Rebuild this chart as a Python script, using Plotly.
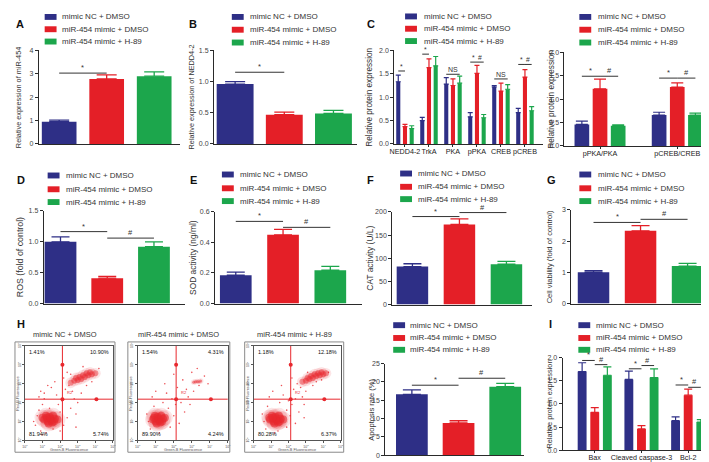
import plotly.graph_objects as go

W, H = 709, 462
FONT = "Arial, 'Liberation Sans', sans-serif"

series_names = ["mimic NC + DMSO", "miR-454 mimic + DMSO", "miR-454 mimic + H-89"]
series_colors = ["#2e2f86", "#e41f27", "#1ca64c"]

# ---------------- data ----------------
A_vals = [0.95, 2.78, 2.90]
A_err = [0.07, 0.17, 0.18]
A_sig = [(0, 1, 3.03, "*")]

B_vals = [0.96, 0.47, 0.49]
B_err = [0.04, 0.04, 0.05]
B_sig = [(0, 1, 1.15, "*")]

C_cats = ["NEDD4-2", "TrkA", "PKA", "pPKA", "CREB", "pCREB"]
C_nc = [1.33, 0.50, 1.28, 0.58, 1.22, 0.67]
C_nc_err = [0.14, 0.07, 0.14, 0.09, 0.03, 0.09]
C_mimic = [0.37, 1.63, 1.25, 1.51, 1.13, 1.43]
C_mimic_err = [0.05, 0.19, 0.14, 0.17, 0.17, 0.16]
C_h89 = [0.33, 1.67, 1.30, 0.56, 1.17, 0.71]
C_h89_err = [0.06, 0.20, 0.15, 0.07, 0.10, 0.09]
C_sig = [(0, 0, 1, 1.56, "*"), (1, 0, 1, 1.92, "*"), (2, 0, 2, 1.49, "NS"),
         (3, 0, 1, 1.75, "*"), (3, 1, 2, 1.75, "#"), (4, 0, 2, 1.39, "NS"),
         (5, 0, 1, 1.70, "*"), (5, 1, 2, 1.70, "#")]

C2_cats = ["pPKA/PKA", "pCREB/CREB"]
C2_nc = [0.46, 0.66]
C2_nc_err = [0.07, 0.06]
C2_mimic = [1.22, 1.26]
C2_mimic_err = [0.21, 0.09]
C2_h89 = [0.43, 0.66]
C2_h89_err = [0.02, 0.04]
C2_sig = [(0, 0, 1, 1.49, "*"), (0, 1, 2, 1.49, "#"), (1, 0, 1, 1.45, "*"), (1, 1, 2, 1.45, "#")]

D_vals = [1.00, 0.41, 0.92]
D_err = [0.08, 0.03, 0.08]
D_sig = [(0, 1, 1.165, "*"), (1, 2, 1.06, "#")]

E_vals = [0.185, 0.450, 0.218]
E_err = [0.020, 0.035, 0.025]
E_sig = [(0, 1, 0.538, "*"), (1, 2, 0.499, "#")]

F_vals = [82, 173, 87]
F_err = [6, 12, 6]
F_sig = [(0, 1, 190, "*"), (1, 2, 198.6, "#")]

G_vals = [1.00, 2.33, 1.20]
G_err = [0.05, 0.17, 0.09]
G_sig = [(0, 1, 2.60, "*"), (1, 2, 2.70, "#")]

Hr_vals = [16.6, 8.8, 18.7]
Hr_err = [1.2, 0.6, 0.9]
Hr_sig = [(0, 1, 19.1, "*"), (1, 2, 21.0, "#")]

I_cats = ["Bax", "Cleaved caspase-3", "Bcl-2"]
I_nc = [1.70, 1.53, 0.64]
I_nc_err = [0.19, 0.18, 0.08]
I_mimic = [0.82, 0.46, 1.19]
I_mimic_err = [0.10, 0.07, 0.13]
I_h89 = [1.62, 1.57, 0.61]
I_h89_err = [0.18, 0.19, 0.05]
I_sig = [(0, 0, 1, 1.94, "*"), (0, 1, 2, 1.85, "#"), (1, 0, 1, 1.76, "*"), (1, 1, 2, 1.83, "#"),
         (2, 0, 1, 1.41, "*"), (2, 1, 2, 1.36, "#")]

flow_titles = ["mimic NC + DMSO", "miR-454 mimic + DMSO", "miR-454 mimic + H-89"]
flow_pcts = [["1.41%", "10.90%", "81.94%", "5.74%"],
             ["1.54%", "4.31%", "89.90%", "4.24%"],
             ["1.18%", "12.18%", "80.28%", "6.37%"]]
flow_tick_labels = ["10<sup>0</sup>", "10<sup>1</sup>", "10<sup>2</sup>", "10<sup>3</sup>", "10<sup>4</sup>", "10<sup>5</sup>"]
gate_x = 2.13
gate_y = 2.18
# dense populations (log-decade units)
core1_x = [1.1, 1.3, 1.5, 1.7, 1.2, 1.4, 1.6, 1.35, 1.55, 1.45, 1.25, 1.65, 1.0, 1.85]
core1_y = [1.1, 1.0, 1.05, 1.15, 1.3, 1.25, 1.3, 0.9, 0.95, 1.15, 1.2, 1.0, 1.2, 1.1]
up1_x = [2.6, 2.8, 3.0, 3.2, 3.4, 3.6, 3.8, 4.0, 3.1, 3.3, 3.5, 3.7, 2.9]
up1_y = [3.05, 3.15, 3.2, 3.25, 3.35, 3.45, 3.5, 3.55, 3.35, 3.45, 3.55, 3.6, 3.3]
core2_x = [0.85, 1.0, 1.2, 1.4, 0.95, 1.1, 1.3, 1.05, 1.25, 1.15, 0.9, 1.35, 1.5]
core2_y = [1.1, 1.0, 1.05, 1.15, 1.3, 1.25, 1.3, 0.9, 0.95, 1.15, 1.2, 1.0, 1.2]
up2_x = [3.1, 3.2, 3.3, 3.4, 3.5]
up2_y = [3.08, 3.1, 3.12, 3.1, 3.14]
core3_x = [0.95, 1.15, 1.35, 1.55, 1.05, 1.25, 1.45, 1.2, 1.4, 1.3, 1.1, 1.5, 0.9, 1.7]
core3_y = [1.1, 1.0, 1.05, 1.15, 1.3, 1.25, 1.3, 0.9, 0.95, 1.15, 1.2, 1.0, 1.2, 1.1]
up3_x = [2.8, 3.0, 3.2, 3.4, 3.6, 3.8, 4.0, 4.15, 3.3, 3.5, 3.7, 3.9, 3.1]
up3_y = [3.1, 3.15, 3.25, 3.3, 3.4, 3.45, 3.5, 3.55, 3.4, 3.5, 3.55, 3.6, 3.3]
# sparse events
sp1_x = [0.6, 0.8, 0.9, 1.0, 1.1, 0.7, 2.0, 2.2, 2.4, 2.1, 1.8, 2.6, 2.8, 1.2, 1.6, 1.9, 2.3, 0.9, 1.3, 2.5,
         2.7, 3.0, 3.2, 2.9, 1.7, 1.5, 2.2, 3.5, 0.5, 1.0, 2.0, 2.4, 3.8, 4.2, 1.4, 3.3, 2.6, 1.1, 0.8, 2.9]
sp1_y = [0.8, 1.6, 0.5, 1.9, 2.2, 1.3, 1.5, 0.8, 1.2, 2.1, 2.4, 1.7, 2.2, 0.4, 0.6, 1.9, 2.7, 2.6, 2.9, 2.9,
         2.6, 2.0, 2.5, 1.4, 3.1, 2.8, 3.3, 2.9, 1.0, 0.3, 0.5, 3.6, 3.1, 3.8, 1.7, 3.9, 3.5, 2.5, 2.3, 0.7]
sp2_x = [0.5, 0.7, 0.9, 1.7, 2.0, 2.3, 2.6, 1.9, 1.6, 2.2, 2.8, 3.1, 2.5, 1.4, 1.2, 0.8, 2.0, 2.7, 3.4,
         3.7, 3.0, 2.4, 1.8, 1.5, 2.9, 3.3, 0.6, 1.0, 2.1, 3.9]
sp2_y = [1.4, 0.6, 1.8, 1.7, 1.3, 0.9, 1.5, 2.2, 2.5, 2.8, 2.3, 2.6, 3.2, 2.0, 0.4, 2.3, 3.5, 2.7, 2.9,
         3.4, 3.6, 2.0, 0.7, 3.0, 1.9, 3.8, 1.0, 2.6, 1.9, 3.0]
sp3_x = [0.5, 0.7, 0.8, 1.9, 2.1, 2.4, 2.6, 2.0, 1.7, 2.3, 2.8, 3.0, 2.5, 1.5, 1.2, 0.9, 2.2, 2.7, 3.4,
         3.6, 3.1, 2.2, 1.9, 1.6, 2.9, 4.3, 0.6, 1.1, 2.4, 3.9, 1.4, 2.9]
sp3_y = [1.4, 0.6, 1.8, 1.6, 1.3, 0.9, 1.5, 2.1, 2.4, 2.7, 2.3, 2.6, 3.0, 2.0, 0.4, 2.3, 3.3, 2.8, 2.9,
         3.1, 3.6, 1.9, 0.7, 2.9, 1.9, 3.6, 1.0, 2.6, 2.2, 3.2, 0.5, 1.2]

# ---------------- layout helpers ----------------
def dom_x(a, b):
    return [a / W, b / W]


def dom_y(top, bot):
    return [1 - bot / H, 1 - top / H]


panels = [
    dict(letter="A", lpos=(2, 12), kind="single", vals=A_vals, errs=A_err, sig=A_sig,
         x0=27, x1=170, yt=39, yb=134, xr=[-0.43, 2.55], yr=[0, 4], dtick=1, fmt="d",
         w=0.73, cap=10, title="Relative expression of miR-454", tx=6, tfs=7.3,
         leg=(33, [5, 17.5, 30], 48), sfs=7.5),
    dict(letter="B", lpos=(177, 12), kind="single", vals=B_vals, errs=B_err, sig=B_sig,
         x0=204, x1=348, yt=39, yb=134, xr=[-0.43, 2.47], yr=[0, 1.5], dtick=0.5, fmt=".1f",
         w=0.75, cap=10, title="Relative expression of NEDD4-2", tx=181, tfs=7.3,
         leg=(222, [5, 18, 31], 238), sfs=7.5),
    dict(letter="C", lpos=(357, 12), kind="group", cats=C_cats, vals=[C_nc, C_mimic, C_h89],
         errs=[C_nc_err, C_mimic_err, C_h89_err], sig=C_sig,
         x0=386, x1=536, yt=39, yb=134, xr=[-0.45, 5.74], yr=[0, 2], dtick=0.5, fmt=".1f",
         w=0.17, step=0.28, cap=2.5, title="Relative protein expression", tx=361, tfs=8.2,
         leg=(397, [4.5, 17, 29.5], 414), sfs=6.8),
    dict(letter=None, kind="group", cats=C2_cats, vals=[C2_nc, C2_mimic, C2_h89],
         errs=[C2_nc_err, C2_mimic_err, C2_h89_err], sig=C2_sig,
         x0=558, x1=707, yt=41, yb=136, xr=[-0.46, 1.45], yr=[0, 2], dtick=0.5, fmt=".1f",
         w=0.19, step=0.235, cap=6, title="Relative protein expression", tx=545, tfs=8.2,
         leg=(573, [5, 18, 31], 590), sfs=7.5),
    dict(letter="D", lpos=(3, 171), kind="single", vals=D_vals, errs=D_err, sig=D_sig,
         x0=32, x1=175, yt=202, yb=296, xr=[-0.36, 2.67], yr=[0, 1.5], dtick=0.5, fmt=".1f",
         w=0.68, cap=9, title="ROS (fold of control)", tx=8, tfs=8.8,
         leg=(36, [166, 180, 193], 53), sfs=7.5),
    dict(letter="E", lpos=(178, 171), kind="single", vals=E_vals, errs=E_err, sig=E_sig,
         x0=205, x1=353, yt=203, yb=296, xr=[-0.44, 2.66], yr=[0, 0.6], dtick=0.2, fmt=".1f",
         w=0.67, cap=9, title="SOD activity (ng/ml)", tx=183, tfs=8.4,
         leg=(212, [165, 179, 192], 228), sfs=7.5),
    dict(letter="F", lpos=(357, 171), kind="single", vals=F_vals, errs=F_err, sig=F_sig,
         x0=384, x1=525, yt=203, yb=297, xr=[-0.43, 2.54], yr=[0, 200], dtick=50, fmt="d",
         w=0.67, cap=9, title="CAT activity (U/L)", tx=362, tfs=8.4,
         leg=(392, [164, 177.5, 190], 408), sfs=7.5),
    dict(letter="G", lpos=(538, 171), kind="single", vals=G_vals, errs=G_err, sig=G_sig,
         x0=565, x1=707, yt=201, yb=296, xr=[-0.47, 2.52], yr=[0, 3], dtick=1, fmt="d",
         w=0.67, cap=9, title="Cell viability (fold of control)", tx=543, tfs=7.6,
         leg=(573, [165, 179, 192], 590), sfs=7.5),
    dict(letter=None, kind="single", vals=Hr_vals, errs=Hr_err, sig=Hr_sig,
         x0=377, x1=517, yt=357, yb=450, xr=[-0.57, 2.4], yr=[0, 25], dtick=5, fmt="d",
         w=0.68, cap=9, title="Apoptosis rate (%)", tx=363, tfs=7.5,
         leg=(385, [318, 331, 343], 400), sfs=7.5),
    dict(letter="I", lpos=(540, 317), kind="group", cats=I_cats, vals=[I_nc, I_mimic, I_h89],
         errs=[I_nc_err, I_mimic_err, I_h89_err], sig=I_sig,
         x0=556, x1=707, yt=351, yb=445, xr=[-0.69, 2.51], yr=[0, 2], dtick=0.5, fmt=".1f",
         w=0.19, step=0.27, cap=4, title="Relative protein expression", tx=543, tfs=7.4,
         leg=(572, [318, 331, 343], 588), sfs=7.5),
]

layout = dict(width=W, height=H, margin=dict(l=0, r=0, t=0, b=0), autosize=False,
              paper_bgcolor="white", plot_bgcolor="rgba(0,0,0,0)", barmode="overlay",
              showlegend=False, font=dict(family=FONT, size=8, color="#333"))
shapes, annotations, traces = [], [], []
AX = "#2a2a2a"

for n, p in enumerate(panels, 1):
    sfx = "" if n == 1 else str(n)
    xref, yref = "x" + sfx, "y" + sfx
    xa = dict(domain=dom_x(p["x0"], p["x1"]), range=p["xr"], anchor=yref, showline=True,
              linecolor=AX, linewidth=1, showgrid=False, zeroline=False, fixedrange=True)
    if p["kind"] == "group":
        xa.update(tickmode="array", tickvals=list(range(len(p["cats"]))), ticktext=p["cats"],
                  ticks="outside", ticklen=2, tickcolor=AX, tickangle=0, ticklabelstandoff=-2,
                  tickfont=dict(size=7.2, color="#222", family=FONT))
    else:
        xa.update(showticklabels=False, ticks="")
    ya = dict(domain=dom_y(p["yt"], p["yb"]), range=p["yr"], anchor=xref, showline=True,
              linecolor=AX, linewidth=1, showgrid=False, zeroline=False, fixedrange=True,
              dtick=p["dtick"], tick0=0, tickformat=p["fmt"], ticks="outside", ticklen=3,
              tickcolor=AX, tickfont=dict(size=7, color="#444", family=FONT))
    layout["xaxis" + sfx] = xa
    layout["yaxis" + sfx] = ya

    if p["kind"] == "single":
        for k in range(3):
            traces.append(go.Bar(x=[k], y=[p["vals"][k]], width=p["w"], xaxis=xref, yaxis=yref,
                                 marker=dict(color=series_colors[k], line=dict(width=0)),
                                 error_y=dict(type="data", array=[p["errs"][k]], arrayminus=[0],
                                              symmetric=False, color=series_colors[k],
                                              thickness=1.3, width=p["cap"]),
                                 hoverinfo="skip"))
        for (i0, i1, yv, lab) in p["sig"]:
            traces.append(go.Scatter(x=[i0, i1], y=[yv, yv], mode="lines", xaxis=xref, yaxis=yref,
                                     line=dict(color="#333", width=1), hoverinfo="skip"))
            annotations.append(dict(x=(i0 + i1) / 2, y=yv, xref=xref, yref=yref, text=lab,
                                    showarrow=False, yanchor="bottom", yshift=-1,
                                    font=dict(size=p["sfs"], color="#333", family=FONT)))
    else:
        ncat = len(p["cats"])
        for k in range(3):
            traces.append(go.Bar(x=list(range(ncat)), y=p["vals"][k], width=p["w"],
                                 offset=(k - 1) * p["step"] - p["w"] / 2, xaxis=xref, yaxis=yref,
                                 marker=dict(color=series_colors[k], line=dict(width=0)),
                                 error_y=dict(type="data", array=p["errs"][k], arrayminus=[0] * ncat,
                                              symmetric=False, color=series_colors[k],
                                              thickness=1.2, width=p["cap"]),
                                 hoverinfo="skip"))
        for (g, k0, k1, yv, lab) in p["sig"]:
            xa0 = g + (k0 - 1) * p["step"]
            xa1 = g + (k1 - 1) * p["step"]
            traces.append(go.Scatter(x=[xa0, xa1], y=[yv, yv], mode="lines", xaxis=xref, yaxis=yref,
                                     line=dict(color="#333", width=1), hoverinfo="skip"))
            annotations.append(dict(x=(xa0 + xa1) / 2, y=yv, xref=xref, yref=yref, text=lab,
                                    showarrow=False, yanchor="bottom", yshift=-1,
                                    font=dict(size=p["sfs"] if lab != "NS" else 7, color="#333", family=FONT)))

    # y title
    annotations.append(dict(x=p["tx"] / W, y=1 - (p["yt"] + p["yb"]) / 2 / H, xref="paper", yref="paper",
                            text=p["title"], textangle=-90, showarrow=False, xanchor="center",
                            yanchor="middle", font=dict(size=p["tfs"], color="#333", family=FONT)))
    # legend
    sx, rows, tx = p["leg"]
    for k in range(3):
        shapes.append(dict(type="rect", xref="paper", yref="paper", x0=sx / W, x1=(sx + 12) / W,
                           y0=1 - (rows[k] + 3) / H, y1=1 - (rows[k] - 3) / H,
                           fillcolor=series_colors[k], line=dict(width=0)))
        annotations.append(dict(x=tx / W, y=1 - rows[k] / H, xref="paper", yref="paper",
                                text=series_names[k], showarrow=False, xanchor="left", yanchor="middle",
                                font=dict(size=8, color="#333", family=FONT)))
    if p.get("letter"):
        lx, ly = p["lpos"]
        annotations.append(dict(x=lx / W, y=1 - ly / H, xref="paper", yref="paper",
                                text="<b>%s</b>" % p["letter"], showarrow=False, xanchor="left",
                                yanchor="middle", font=dict(size=11, color="#111", family=FONT)))

# ---------------- flow cytometry panels (H) ----------------
annotations.append(dict(x=3 / W, y=1 - 317 / H, xref="paper", yref="paper", text="<b>H</b>",
                        showarrow=False, xanchor="left", yanchor="middle",
                        font=dict(size=11, color="#111", family=FONT)))
flow_frames = [(3, 104), (117, 220), (235, 335)]
flow_inner = [(13, 102), (127, 218), (244, 332)]
flow_core = [(core1_x, core1_y, up1_x, up1_y, 6), (core2_x, core2_y, up2_x, up2_y, 3),
             (core3_x, core3_y, up3_x, up3_y, 6)]
flow_sparse = [(sp1_x, sp1_y), (sp2_x, sp2_y), (sp3_x, sp3_y)]
FLOW_RED = "#e8282e"
for j in range(3):
    n = len(panels) + 1 + j
    sfx = str(n)
    xref, yref = "x" + sfx, "y" + sfx
    fx0, fx1 = flow_frames[j]
    ix0, ix1 = flow_inner[j]
    shapes.append(dict(type="rect", xref="paper", yref="paper", x0=fx0 / W, x1=fx1 / W,
                       y0=1 - 447 / H, y1=1 - 335 / H, line=dict(color="#8a8a8a", width=1)))
    common = dict(showline=True, mirror=True, linecolor="#555", linewidth=0.8, showgrid=False,
                  zeroline=False, fixedrange=True, range=[0, 5], tickmode="array",
                  tickvals=list(range(6)), ticktext=flow_tick_labels, ticks="outside", ticklen=2,
                  tickcolor="#555", tickfont=dict(size=3.5, color="#555", family=FONT))
    layout["xaxis" + sfx] = dict(domain=dom_x(ix0, ix1), anchor=yref, **common)
    layout["yaxis" + sfx] = dict(domain=dom_y(339, 435), anchor=xref, tickangle=-90, **common)
    cx, cy, ux, uy, us = flow_core[j]
    sx_, sy_ = flow_sparse[j]
    traces.append(go.Scatter(x=sx_, y=sy_, mode="markers", xaxis=xref, yaxis=yref, hoverinfo="skip",
                             marker=dict(color=FLOW_RED, size=1.6, opacity=0.8, line=dict(width=0))))
    traces.append(go.Scatter(x=cx, y=cy, mode="markers", xaxis=xref, yaxis=yref, hoverinfo="skip",
                             marker=dict(color=FLOW_RED, size=16, opacity=0.12, line=dict(width=0))))
    traces.append(go.Scatter(x=cx, y=cy, mode="markers", xaxis=xref, yaxis=yref, hoverinfo="skip",
                             marker=dict(color=FLOW_RED, size=8, opacity=0.55, line=dict(width=0))))
    traces.append(go.Scatter(x=ux, y=uy, mode="markers", xaxis=xref, yaxis=yref, hoverinfo="skip",
                             marker=dict(color=FLOW_RED, size=us * 1.8, opacity=0.12, line=dict(width=0))))
    traces.append(go.Scatter(x=ux, y=uy, mode="markers", xaxis=xref, yaxis=yref, hoverinfo="skip",
                             marker=dict(color=FLOW_RED, size=us, opacity=0.45, line=dict(width=0))))
    # gates
    traces.append(go.Scatter(x=[gate_x, gate_x], y=[0, 5], mode="lines", xaxis=xref, yaxis=yref,
                             line=dict(color=FLOW_RED, width=1), hoverinfo="skip"))
    traces.append(go.Scatter(x=[0, 5], y=[gate_y, gate_y], mode="lines", xaxis=xref, yaxis=yref,
                             line=dict(color=FLOW_RED, width=1), hoverinfo="skip"))
    traces.append(go.Scatter(x=[gate_x, 4.06, gate_x], y=[4.0, gate_y, gate_y], mode="markers",
                             xaxis=xref, yaxis=yref, hoverinfo="skip",
                             marker=dict(color=FLOW_RED, size=4)))
    annotations.append(dict(x=gate_x + 0.15, y=gate_y + 0.1, xref=xref, yref=yref, text="R2",
                            showarrow=False, xanchor="left", yanchor="bottom",
                            font=dict(size=4, color=FLOW_RED, family=FONT)))
    pct = flow_pcts[j]
    for (txt, xx, yy, xan, yan) in [(pct[0], 0.12, 4.92, "left", "top"), (pct[1], 4.9, 4.92, "right", "top"),
                                     (pct[2], 0.12, 0.1, "left", "bottom"), (pct[3], 4.9, 0.1, "right", "bottom")]:
        annotations.append(dict(x=xx, y=yy, xref=xref, yref=yref, text=txt, showarrow=False,
                                xanchor=xan, yanchor=yan, font=dict(size=5.5, color="#111", family=FONT)))
    annotations.append(dict(x=(fx0 + fx1) / 2 / W, y=1 - 327 / H, xref="paper", yref="paper",
                            text=flow_titles[j], showarrow=False, xanchor="center", yanchor="middle",
                            font=dict(size=7.5, color="#333", family=FONT)))
    annotations.append(dict(x=(ix0 + ix1) / 2 / W, y=1 - 445 / H, xref="paper", yref="paper",
                            text="Green-B Fluorescence", showarrow=False, xanchor="center",
                            yanchor="middle", font=dict(size=3.8, color="#555", family=FONT)))
    annotations.append(dict(x=(fx0 + 3) / W, y=1 - 387 / H, xref="paper", yref="paper",
                            text="Red-B Fluorescence", textangle=-90, showarrow=False,
                            xanchor="center", yanchor="middle", font=dict(size=3.8, color="#555", family=FONT)))

layout["shapes"] = shapes
layout["annotations"] = annotations
fig = go.Figure(data=traces, layout=layout)
fig.write_html("out.html", config={"displayModeBar": False})
